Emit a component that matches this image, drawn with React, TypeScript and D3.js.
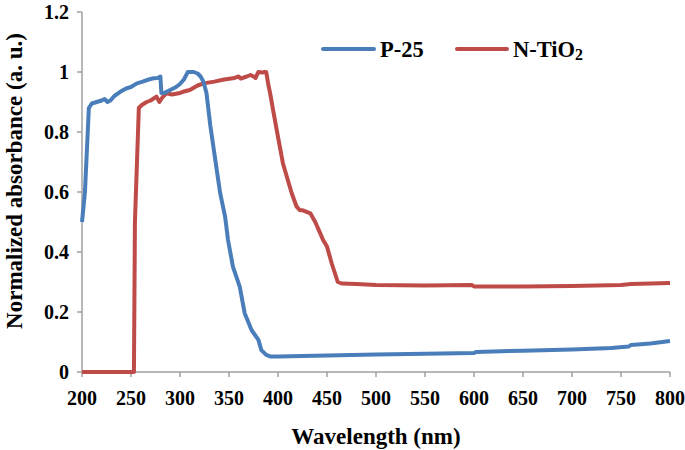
import React from "react";
import * as d3 from "d3";

const p25Wavelength = [200,203,207,210,215,220,223,226,229,233,239,245,250,256,262,268,273,277,280,281,284,290,296,300,304,308,311,314,318,321,324,327,331,336,341,346,349,354,361,366,373,380,383,388,392,400,450,500,550,600,602,650,700,740,758,760,780,800];
const p25Values = [0.50,0.60,0.88,0.895,0.90,0.905,0.91,0.90,0.905,0.92,0.934,0.945,0.95,0.962,0.968,0.975,0.979,0.98,0.985,0.93,0.93,0.94,0.95,0.96,0.975,1.0,1.0,1.0,0.995,0.985,0.967,0.93,0.82,0.707,0.596,0.518,0.44,0.351,0.284,0.196,0.14,0.107,0.073,0.057,0.052,0.052,0.055,0.058,0.061,0.063,0.067,0.071,0.075,0.08,0.085,0.09,0.095,0.103];

const ntWavelength = [200,253,254,258,261,266,270,276,279,282,286,292,300,303,310,318,324,335,345,354,360,362,368,372,375,377,380,384,386,388,390,392,395,400,405,410,414,419,422,426,433,438,443,446,450,455,461,465,480,500,550,598,600,650,700,750,760,800];
const ntValues = [0,0,0.5,0.88,0.89,0.9,0.905,0.918,0.90,0.915,0.929,0.925,0.93,0.934,0.94,0.955,0.962,0.968,0.975,0.979,0.985,0.978,0.985,0.99,0.985,0.98,1.0,0.998,1.0,1.0,0.96,0.929,0.873,0.784,0.696,0.64,0.596,0.551,0.54,0.538,0.529,0.50,0.463,0.44,0.418,0.36,0.30,0.295,0.293,0.29,0.288,0.29,0.285,0.285,0.287,0.29,0.293,0.297];

const xTicks = [200,250,300,350,400,450,500,550,600,650,700,750,800];
const yTicks = [0,0.2,0.4,0.6,0.8,1,1.2];

const seriesNames = ["P-25", "N-TiO"];
const seriesColors = ["#4a7ebb", "#be4b48"];

export default function App() {
  const W = 685, H = 450;
  const x = d3.scaleLinear().domain([200, 800]).range([82, 670]);
  const y = d3.scaleLinear().domain([0, 1.2]).range([372, 12]);
  const line = d3.line<[number, number]>().x(d => x(d[0])).y(d => y(d[1]));
  const p25 = p25Wavelength.map((w, i) => [w, p25Values[i]] as [number, number]);
  const nt = ntWavelength.map((w, i) => [w, ntValues[i]] as [number, number]);
  const font = "'Liberation Serif', 'Times New Roman', serif";
  const axisColor = "#a0a0a0";
  return (
    <svg width={W} height={H} style={{ position: "absolute", left: 0, top: 0, background: "#fff" }} fontFamily={font} fontWeight="bold">
      {/* axes */}
      <line x1={x(200)} x2={x(200)} y1={y(1.2)} y2={y(0)} stroke={axisColor} strokeWidth={1.5} />
      <line x1={x(200)} x2={x(800)} y1={y(0)} y2={y(0)} stroke={axisColor} strokeWidth={1.5} />
      {yTicks.map(t => (
        <g key={"y" + t}>
          <line x1={x(200) - 5} x2={x(200)} y1={y(t)} y2={y(t)} stroke={axisColor} strokeWidth={1.5} />
          <text x={x(200) - 13} y={y(t)} dy="0.35em" textAnchor="end" fontSize={20}>{d3.format("~g")(t)}</text>
        </g>
      ))}
      {xTicks.map(t => (
        <g key={"x" + t}>
          <line x1={x(t)} x2={x(t)} y1={y(0)} y2={y(0) + 5} stroke={axisColor} strokeWidth={1.5} />
          <text x={x(t)} y={y(0) + 33} textAnchor="middle" fontSize={20}>{t}</text>
        </g>
      ))}
      <text x={376} y={444} textAnchor="middle" fontSize={23}>Wavelength (nm)</text>
      <text transform={`translate(22,${181}) rotate(-90)`} textAnchor="middle" fontSize={23}>Normalized absorbance (a. u.)</text>
      {/* series */}
      <path d={line(nt) || ""} fill="none" stroke={seriesColors[1]} strokeWidth={4} strokeLinejoin="round" />
      <path d={line(p25) || ""} fill="none" stroke={seriesColors[0]} strokeWidth={4} strokeLinejoin="round" />
      {/* legend */}
      <line x1={323} x2={374} y1={49} y2={49} stroke={seriesColors[0]} strokeWidth={4} strokeLinecap="round" />
      <text x={380} y={57} fontSize={22.5}>{seriesNames[0]}</text>
      <line x1={457} x2={507} y1={49} y2={49} stroke={seriesColors[1]} strokeWidth={4} strokeLinecap="round" />
      <text x={513} y={57} fontSize={22.5}>{seriesNames[1]}<tspan fontSize={16} dy={3}>2</tspan></text>
    </svg>
  );
}
